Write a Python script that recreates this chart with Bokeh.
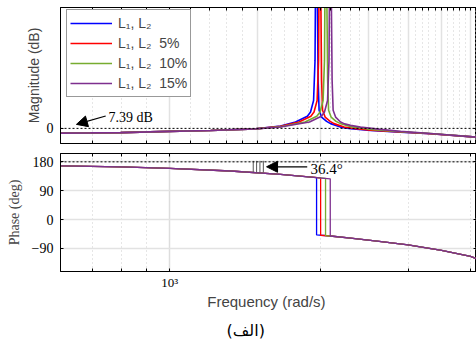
from bokeh.plotting import figure
from bokeh.layouts import column
from bokeh.models import (FixedTicker, LogAxis, LinearAxis, Span, Label, Arrow,
                          NormalHead, Legend, LegendItem, Title, Range1d,
                          CustomJSTickFormatter)
from bokeh.embed import file_html
from bokeh.resources import INLINE

# ---------------- data ----------------
series_names = ["L\u2081, L\u2082", "L\u2081, L\u2082  5%", "L\u2081, L\u2082  10%", "L\u2081, L\u2082  15%"]
colors = ["#0000FF", "#FF0000", "#77AC30", "#7E2F8E"]

# magnitude (dB) vs frequency (rad/s)
mag_freq_blue = [605, 695, 798, 1000, 1208, 1486, 1667, 1786, 1886, 1914, 1941, 1954, 1961, 1970,
                 1982, 1991, 2014, 2061, 2099, 2198, 2302, 2524, 2895, 3326, 4111]
mag_db_blue = [-6.3, -6.0, -5.6, -4.0, -2.7, -0.7, 3.0, 8.4, 16, 21.7, 37, 90, 250, 250,
               64, 24, 15, 9.3, 6.3, 1.7, -0.4, -2.7, -4.9, -7.1, -11.6]

mag_freq_red = [605, 695, 798, 1000, 1208, 1486, 1667, 1815, 1917, 1945, 1973, 1986, 1993, 2002,
                2014, 2023, 2047, 2095, 2133, 2234, 2340, 2524, 2895, 3326, 4111]
mag_db_red = [-6.3, -6.0, -5.6, -4.0, -2.7, -0.7, 2.7, 8.4, 16, 21.7, 37, 90, 250, 250,
              64, 24, 15, 9.3, 6.3, 1.9, -0.2, -2.4, -4.8, -7.0, -11.6]

mag_freq_green = [605, 695, 798, 1000, 1208, 1486, 1667, 1866, 1970, 2000, 2028, 2041, 2049, 2058,
                  2071, 2080, 2104, 2153, 2193, 2296, 2405, 2560, 2895, 3326, 4111]
mag_db_green = [-6.3, -6.0, -5.6, -4.0, -2.7, -0.7, 2.2, 8.4, 16, 21.7, 37, 90, 250, 250,
                64, 24, 15, 9.3, 6.6, 2.6, 0.6, -1.7, -4.4, -6.8, -11.6]

mag_freq_purple = [605, 695, 798, 1000, 1208, 1486, 1667, 1905, 2012, 2041, 2070, 2084, 2092, 2101,
                   2114, 2124, 2148, 2198, 2239, 2302, 2410, 2640, 2895, 3326, 4111]
mag_db_purple = [-6.3, -6.0, -5.6, -4.0, -2.7, -0.7, 1.8, 8.4, 16, 21.7, 37, 90, 250, 250,
                 64, 24, 15, 8.5, 6.0, 4.0, 1.7, -1.3, -4.0, -6.7, -11.6]

# phase (deg) vs frequency (rad/s)
ph_freq_blue = [605, 800, 1000, 1324, 1667, 1968, 1968, 2096, 2302, 2600, 3000, 3500, 4000, 4111]
ph_deg_blue = [167.7, 164.0, 159.7, 151.4, 140.7, 130.8, -48.0, -51.3, -58.0, -67.0, -79.0, -96.0, -115.0, -122.0]
ph_freq_red = [605, 800, 1000, 1324, 1667, 2005, 2005, 2096, 2302, 2600, 3000, 3500, 4000, 4111]
ph_deg_red = [167.7, 164.0, 159.7, 151.4, 140.7, 129.7, -49.0, -51.3, -58.0, -67.0, -79.0, -96.0, -115.0, -122.0]
ph_freq_green = [605, 800, 1000, 1324, 1667, 2051, 2051, 2096, 2302, 2600, 3000, 3500, 4000, 4111]
ph_deg_green = [167.7, 164.0, 159.7, 151.4, 140.7, 128.3, -50.2, -51.3, -58.0, -67.0, -79.0, -96.0, -115.0, -122.0]
ph_freq_purple = [605, 800, 1000, 1324, 1667, 2096, 2096, 2302, 2600, 3000, 3500, 4000, 4111]
ph_deg_purple = [167.7, 164.0, 159.7, 151.4, 140.7, 126.9, -51.3, -58.0, -67.0, -79.0, -96.0, -115.0, -122.0]

# ticks
mag_major_ticks = [1000, 1500, 2000, 2500, 3000, 3500, 4000]
mag_minor_ticks = [600, 700, 800, 900, 1100, 1200, 1300, 1400, 1600, 1700, 1800, 1900, 2100, 2200,
                   2300, 2400, 2600, 2700, 2800, 2900, 3100, 3200, 3300, 3400, 3600, 3700, 3800,
                   3900, 4100]
mag_y_ticks = [0]
ph_major_ticks = [1000]
ph_minor_ticks = [600, 700, 800, 900, 2000, 3000, 4000]
ph_y_ticks = [180, 90, 0, -90]

# annotations
gm_text = "7.39 dB"
pm_text = "36.4\u00b0"
pm_marker_freq = [1470, 1493, 1516, 1540]
pm_marker_lo = [147, 147, 147, 147]
pm_marker_hi = [183, 183, 183, 183]

SERIF = "Liberation Serif"
SANS = "Liberation Sans"


def style_axis(ax, hide_labels=False):
    ax.major_tick_in = 3
    ax.major_tick_out = 0
    ax.minor_tick_in = 3
    ax.minor_tick_out = 0
    ax.axis_line_color = "black"
    ax.major_tick_line_color = "black"
    ax.minor_tick_line_color = "black"
    ax.major_label_text_font = SERIF
    ax.major_label_text_color = "black"
    if hide_labels:
        ax.formatter = CustomJSTickFormatter(code="return ''")
        ax.major_label_standoff = 0
        ax.major_label_text_font_size = "1px"


# ---------------- magnitude plot ----------------
p1 = figure(width=476, height=148, x_axis_type="log",
            x_range=Range1d(605, 4111), y_range=Range1d(-20, 160),
            output_backend="svg", toolbar_location=None,
            min_border_left=60, min_border_right=0, min_border_top=7, min_border_bottom=5)
p1.outline_line_color = "black"
p1.outline_line_width = 1

mag_ticker = FixedTicker(ticks=mag_major_ticks, minor_ticks=mag_minor_ticks)
p1.xaxis.ticker = mag_ticker
style_axis(p1.xaxis[0], hide_labels=True)
p1.yaxis.ticker = FixedTicker(ticks=mag_y_ticks, minor_ticks=[])
style_axis(p1.yaxis[0])
p1.yaxis.major_label_text_font_size = "14px"
p1.yaxis.major_label_standoff = 7
p1.yaxis.axis_label = "Magnitude (dB)"
p1.yaxis.axis_label_text_font = SANS
p1.yaxis.axis_label_text_font_size = "14px"
p1.yaxis.axis_label_text_font_style = "normal"
p1.yaxis.axis_label_standoff = 2

top1 = LogAxis(ticker=mag_ticker)
style_axis(top1, hide_labels=True)
p1.add_layout(top1, "above")
right1 = LinearAxis(ticker=FixedTicker(ticks=mag_y_ticks, minor_ticks=[]))
style_axis(right1, hide_labels=True)
p1.add_layout(right1, "right")

p1.xgrid.ticker = mag_ticker
p1.xgrid.grid_line_color = "#e2e2e2"
p1.xgrid.grid_line_width = 1.5
p1.xgrid.minor_grid_line_color = "#cccccc"
p1.xgrid.minor_grid_line_dash = "1 3"
p1.ygrid.grid_line_color = None

p1.add_layout(Span(location=0, dimension="width", line_color="black", line_dash="2 2", line_width=1))

mag_series = [(mag_freq_blue, mag_db_blue), (mag_freq_red, mag_db_red),
              (mag_freq_green, mag_db_green), (mag_freq_purple, mag_db_purple)]
items = []
for (fx, dy), c, name in zip(mag_series, colors, series_names):
    r = p1.line(fx, dy, line_color=c, line_width=1.6)
    items.append(LegendItem(label=name, renderers=[r]))

legend = Legend(items=items, location=(6, 46), orientation="vertical",
                label_text_font=SANS, label_text_font_size="14px",
                glyph_width=42, glyph_height=20, label_height=20, spacing=0,
                padding=3, margin=0, label_standoff=6,
                border_line_color="#333333", border_line_width=1,
                background_fill_color="white", background_fill_alpha=1)
p1.add_layout(legend)

p1.add_layout(Label(x=755, y=14.3, text=gm_text, text_font=SERIF, text_font_size="14px",
                    text_baseline="middle", text_align="left", text_color="black"))
p1.add_layout(Arrow(end=NormalHead(size=11, fill_color="black", line_color="black"),
                    x_start=745, y_start=16.4, x_end=651, y_end=5.3,
                    line_color="black", line_width=1.2))

# ---------------- phase plot ----------------
p2 = figure(width=476, height=197, x_axis_type="log",
            x_range=p1.x_range, y_range=Range1d(-162, 206),
            output_backend="svg", toolbar_location=None,
            min_border_left=60, min_border_right=0, min_border_top=5, min_border_bottom=72)
p2.outline_line_color = "black"
p2.outline_line_width = 1

ph_ticker = FixedTicker(ticks=ph_major_ticks, minor_ticks=ph_minor_ticks)
p2.xaxis.ticker = ph_ticker
style_axis(p2.xaxis[0])
p2.xaxis.major_label_overrides = {1000: "10\u00b3"}
p2.xaxis.major_label_text_font_size = "13px"
p2.xaxis.major_label_standoff = 3
p2.xaxis.axis_label = "Frequency  (rad/s)"
p2.xaxis.axis_label_text_font = SANS
p2.xaxis.axis_label_text_font_size = "15px"
p2.xaxis.axis_label_text_font_style = "normal"
p2.xaxis.axis_label_standoff = 0

p2.yaxis.ticker = FixedTicker(ticks=ph_y_ticks, minor_ticks=[])
style_axis(p2.yaxis[0])
p2.yaxis.major_label_text_font_size = "14px"
p2.yaxis.major_label_standoff = 7
p2.yaxis.axis_label = "Phase (deg)"
p2.yaxis.axis_label_text_font = SERIF
p2.yaxis.axis_label_text_font_size = "14px"
p2.yaxis.axis_label_text_font_style = "normal"
p2.yaxis.axis_label_standoff = 7

top2 = LogAxis(ticker=ph_ticker)
style_axis(top2, hide_labels=True)
p2.add_layout(top2, "above")
right2 = LinearAxis(ticker=FixedTicker(ticks=ph_y_ticks, minor_ticks=[]))
style_axis(right2, hide_labels=True)
p2.add_layout(right2, "right")

p2.xgrid.ticker = ph_ticker
p2.xgrid.grid_line_color = "#dddddd"
p2.xgrid.grid_line_width = 1.5
p2.xgrid.minor_grid_line_color = "#cccccc"
p2.xgrid.minor_grid_line_dash = "1 3"
p2.ygrid.grid_line_color = "#e2e2e2"
p2.ygrid.grid_line_width = 1.5

p2.add_layout(Span(location=180, dimension="width", line_color="black", line_dash="2 2", line_width=1))

ph_series = [(ph_freq_blue, ph_deg_blue), (ph_freq_red, ph_deg_red),
             (ph_freq_green, ph_deg_green), (ph_freq_purple, ph_deg_purple)]
for (fx, dy), c in zip(ph_series, colors):
    p2.line(fx, dy, line_color=c, line_width=1.3)

p2.segment(x0=pm_marker_freq, y0=pm_marker_lo, x1=pm_marker_freq, y1=pm_marker_hi,
           line_color="#555555", line_width=1)
p2.add_layout(Label(x=1913, y=158, text=pm_text, text_font=SERIF, text_font_size="15px",
                    text_baseline="middle", text_align="left", text_color="black"))
p2.add_layout(Arrow(end=NormalHead(size=11, fill_color="black", line_color="black"),
                    x_start=1885, y_start=164.6, x_end=1563, y_end=164.6,
                    line_color="black", line_width=1.2))

p2.add_layout(Title(text="(\u0627\u0644\u0641)", align="left", offset=166,
                    text_font="DejaVu Sans", text_font_size="16px",
                    text_font_style="normal", text_color="black", standoff=12), "below")

layout = column(p1, p2, spacing=0)
open("out.html", "w").write(file_html(layout, INLINE))
